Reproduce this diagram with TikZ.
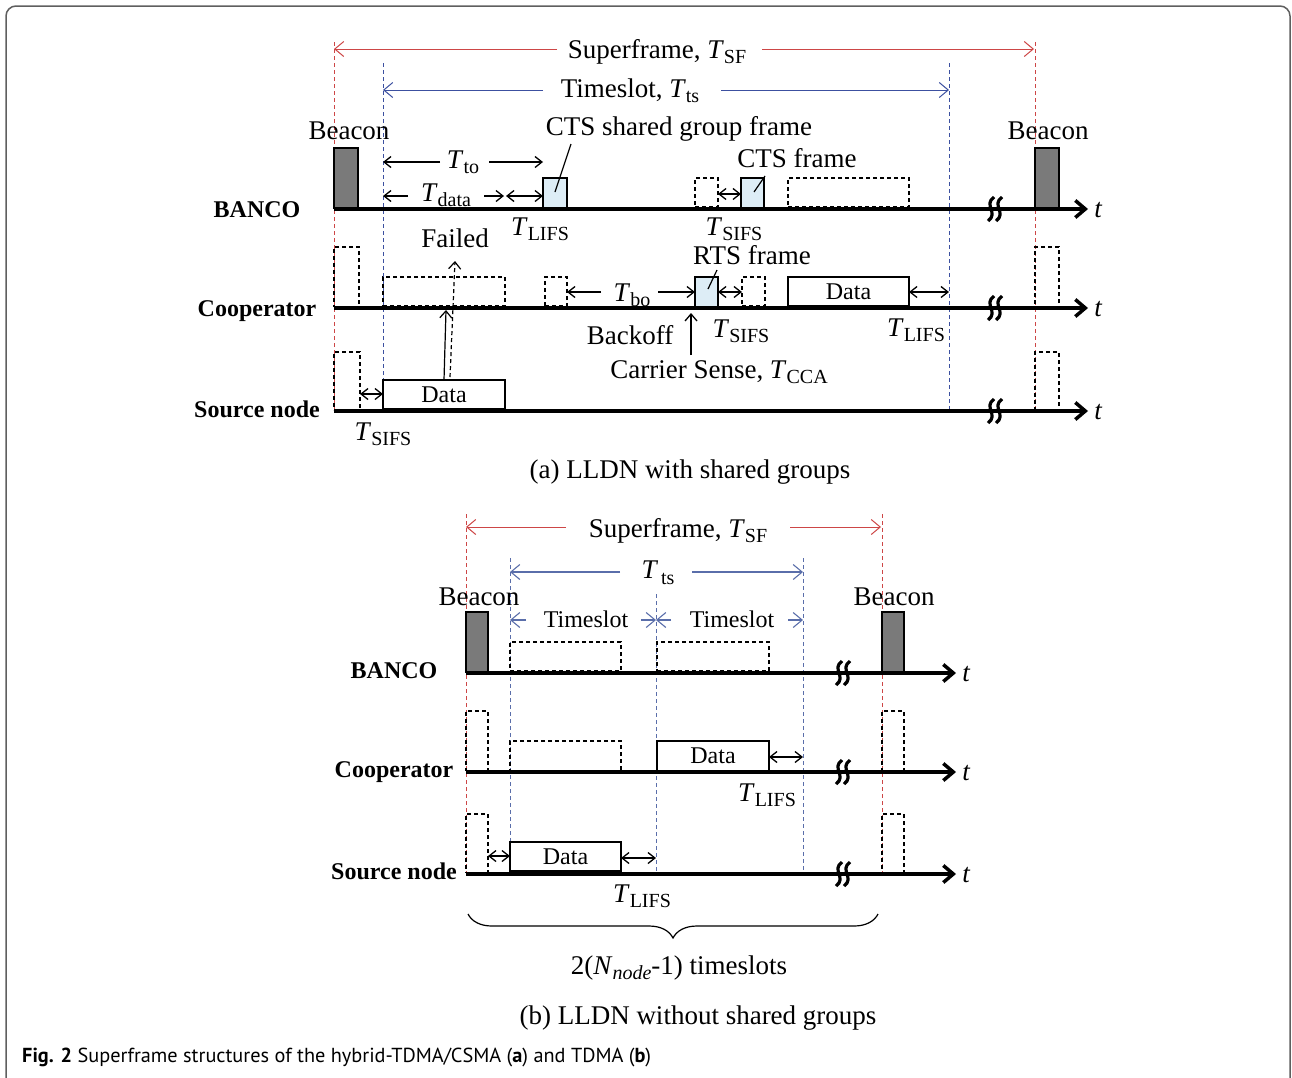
\documentclass[tikz,border=0pt]{standalone}
\usepackage{fontspec}
\setmainfont{Liberation Serif}
\newfontfamily\capfont{PT Sans}
\usetikzlibrary{arrows.meta,decorations.pathreplacing}
\definecolor{sfred}{RGB}{205,70,70}
\definecolor{tsblue}{RGB}{60,80,160}
\definecolor{tsblueb}{RGB}{90,110,170}
\definecolor{ctsfill}{RGB}{221,237,246}
\definecolor{beacongray}{RGB}{122,122,122}
\definecolor{framegray}{RGB}{95,95,95}
\newcommand{\Tsb}[1]{\textit{T}\raisebox{-5pt}{\fontsize{20}{20}\selectfont #1}}
\newcommand{\brkmark}[2]{%
  \foreach \dx in {-4,4}{%
    \draw[line width=3.2pt] ({#1+\dx+3},{#2-12}) .. controls ({#1+\dx-8},{#2-4}) and ({#1+\dx+8},{#2+4}) .. ({#1+\dx-3},{#2+12});}}
\begin{document}
\begin{tikzpicture}[x=1pt,y=-1pt,
  lbl/.style={font=\fontsize{27}{27}\selectfont, inner sep=0pt, anchor=base},
  sml/.style={font=\fontsize{24}{24}\selectfont, inner sep=0pt, anchor=base},
  rowlbl/.style={font=\fontsize{24}{24}\selectfont\bfseries, inner sep=0pt, anchor=base},
  tlbl/.style={font=\fontsize{27}{27}\selectfont\itshape, inner sep=0pt, anchor=base},
  axis/.style={line width=3.5pt, -{Straight Barb[length=10pt,width=17pt]}},
  reddash/.style={sfred, line width=1pt, dash pattern=on 3.5pt off 3.5pt},
  bluedash/.style={tsblue, line width=1pt, dash pattern=on 3.5pt off 3.5pt},
  bluedashb/.style={tsblueb, line width=1pt, dash pattern=on 3.5pt off 3.5pt},
  sfarr/.style={sfred, line width=1pt, -{Straight Barb[length=9pt,width=15pt]}},
  tsarr/.style={tsblue, line width=1pt, -{Straight Barb[length=9pt,width=15pt]}},
  tsarrb/.style={tsblueb, line width=1.1pt, -{Straight Barb[length=9pt,width=15pt]}},
  dimarr/.style={line width=1.3pt, -{Straight Barb[length=7pt,width=11pt]}},
  dimdbl/.style={line width=1.3pt, {Straight Barb[length=7pt,width=11pt]}-{Straight Barb[length=7pt,width=11pt]}},
  box/.style={inner sep=0pt, outer sep=0pt, anchor=south west, line width=1.3pt},
  beaconbox/.style={box, draw, fill=beacongray},
  ctsbox/.style={box, draw, fill=ctsfill},
  databox/.style={box, draw, fill=white, font=\fontsize{24}{24}\selectfont},
  dshbox/.style={box, draw, dash pattern=on 4pt off 3pt, line width=1.2pt},
]
\useasboundingbox (0,0) rectangle (1292,1077);
\draw[framegray, line width=1.5pt, rounded corners=10pt] (6,1090) -- (6,6) -- (1290,6) -- (1290,1090);

%% ================= (a) =================
\draw[reddash] (334,42) -- (334,412);
\draw[reddash] (1035,42) -- (1035,412);
\draw[bluedash] (383,63) -- (383,412);
\draw[bluedash] (949,63) -- (949,412);

\node[lbl] (sfA) at (657,58) {Superframe, \Tsb{SF}};
\draw[sfarr] (557,49) -- (334,49);
\draw[sfarr] (762,49) -- (1034,49);
\node[lbl] (tsA) at (630,97) {Timeslot, \Tsb{ts}};
\draw[tsarr] (543,90) -- (383,90);
\draw[tsarr] (721,90) -- (949,90);

\coordinate (axA1s) at (334,209); \coordinate (axA1e) at (1088,209);
\coordinate (axA2s) at (334,308); \coordinate (axA2e) at (1088,308);
\coordinate (axA3s) at (334,411); \coordinate (axA3e) at (1088,411);

% BANCO row boxes
\node[beaconbox, minimum width=24pt, minimum height=60pt] (bcnA1) at (334,208) {};
\node[beaconbox, minimum width=24pt, minimum height=60pt] (bcnA2) at (1035,208) {};
\node[ctsbox, minimum width=24pt, minimum height=30pt] (cts1) at (543,208) {};
\node[dshbox, minimum width=23pt, minimum height=29pt] (dsh1) at (695,207) {};
\node[ctsbox, minimum width=23pt, minimum height=30pt] (cts2) at (741,208) {};
\node[dshbox, minimum width=121pt, minimum height=29pt] (dsh2) at (788,207) {};

% Coop row boxes
\node[dshbox, minimum width=25pt, minimum height=60pt] (dbA1) at (334,307) {};
\node[dshbox, minimum width=24pt, minimum height=60pt] (dbA2) at (1035,307) {};
\node[dshbox, minimum width=122pt, minimum height=29pt] (dsh3) at (383,306) {};
\node[dshbox, minimum width=22pt, minimum height=29pt] (dsh4) at (545,306) {};
\node[ctsbox, minimum width=23pt, minimum height=30pt] (rts) at (695,307) {};
\node[dshbox, minimum width=23pt, minimum height=29pt] (dsh5) at (742,306) {};
\node[databox, minimum width=121pt, minimum height=29pt] (coopData) at (788,306) {Data};

% Source row boxes
\node[dshbox, minimum width=26pt, minimum height=58pt] (dbA3) at (334,410) {};
\node[dshbox, minimum width=24pt, minimum height=58pt] (dbA4) at (1035,410) {};
\node[databox, minimum width=122pt, minimum height=29pt] (srcData) at (383,409) {Data};

\draw[axis] (axA1s) -- (axA1e);
\draw[axis] (axA2s) -- (axA2e);
\draw[axis] (axA3s) -- (axA3e);
\brkmark{995}{209}
\brkmark{995}{308}
\brkmark{995}{411}
\node[tlbl] at (1098,217) {t};
\node[tlbl] at (1098,316) {t};
\node[tlbl] at (1098,419) {t};

\node[rowlbl] at (257,217) {BANCO};
\node[rowlbl] at (257,316) {Cooperator};
\node[rowlbl] at (257,417) {Source node};

% BANCO annotations
\node[lbl] at (349,139) {Beacon};
\node[lbl] at (1048,139) {Beacon};
\node[lbl] (ctsg) at (679,135) {CTS shared group frame};
\draw[line width=1.2pt] (571,144) -- (555,192);
\node[lbl] (ctsf) at (797,167) {CTS frame};
\draw[line width=1.2pt] (765,176) -- (754,192);
\node[lbl] (tto) at (463,168) {\Tsb{to}};
\draw[dimarr] (440,162) -- (383,162);
\draw[dimarr] (489,162) -- (543,162);
\node[lbl] (tdata) at (446,201) {\Tsb{data}};
\draw[dimarr] (408,196) -- (383,196);
\draw[dimarr] (484,196) -- (504,196);
\draw[dimdbl] (506,196) -- (cts1.west |- 0,196);
\node[lbl] at (540,235) {\Tsb{LIFS}};
\draw[dimdbl] (dsh1.east |- 0,194) -- (cts2.west |- 0,194);
\node[lbl] at (734,235) {\Tsb{SIFS}};

% Cooperator annotations
\node[lbl] (failed) at (455,247) {Failed};
\draw[line width=1.2pt, dash pattern=on 4pt off 3pt, -{Straight Barb[length=7pt,width=12pt]}] (450,377) -- (455,261);
\draw[line width=1.2pt, -{Straight Barb[length=7pt,width=12pt]}] (srcData.north -| 444,0) -- (446,310);
\node[lbl] (tbo) at (632,301) {\Tsb{bo}};
\draw[dimarr] (601,292) -- (dsh4.east |- 0,292);
\draw[dimarr] (658,292) -- (rts.west |- 0,292);
\node[lbl] (rtsl) at (752,264) {RTS frame};
\draw[line width=1.2pt] (717,270) -- (708,289);
\draw[dimdbl] (rts.east |- 0,292) -- (dsh5.west |- 0,292);
\node[lbl] at (741,337) {\Tsb{SIFS}};
\draw[dimdbl] (coopData.east |- 0,292) -- (949,292);
\node[lbl] at (916,336) {\Tsb{LIFS}};
\node[lbl] at (630,344) {Backoff};
\draw[line width=1.3pt, -{Straight Barb[length=7pt,width=12pt]}] (691,355) -- (691,313);
\node[lbl] at (719,378) {Carrier Sense, \Tsb{CCA}};

% Source annotations
\draw[dimdbl] (dbA3.east |- 0,394) -- (srcData.west |- 0,394);
\node[lbl] at (383,440) {\Tsb{SIFS}};

\node[lbl] at (690,478) {(a) LLDN with shared groups};

%% ================= (b) =================
\draw[reddash] (466,514) -- (466,874);
\draw[reddash] (882,514) -- (882,874);
\draw[bluedashb] (510,558) -- (510,874);
\draw[bluedashb] (656,594) -- (656,874);
\draw[bluedashb] (803,558) -- (803,874);

\node[lbl] (sfB) at (678,537) {Superframe, \Tsb{SF}};
\draw[sfarr] (566,527) -- (466,527);
\draw[sfarr] (790,527) -- (881,527);
\node[lbl] (tsB) at (658,578) {\textit{T}\hspace{3pt}\raisebox{-6pt}{\fontsize{20}{20}\selectfont ts}};
\draw[tsarrb] (620,572) -- (510,572);
\draw[tsarrb] (692,572) -- (803,572);
\node[sml] at (586,627) {Timeslot};
\node[sml] at (732,627) {Timeslot};
\draw[tsarrb] (526,620) -- (510,620);
\draw[tsarrb] (641,620) -- (656,620);
\draw[tsarrb] (671,620) -- (656,620);
\draw[tsarrb] (788,620) -- (803,620);

\coordinate (axB1s) at (466,673); \coordinate (axB1e) at (956,673);
\coordinate (axB2s) at (466,772); \coordinate (axB2e) at (956,772);
\coordinate (axB3s) at (466,874); \coordinate (axB3e) at (956,874);

\node[beaconbox, minimum width=22pt, minimum height=60pt] (bcnB1) at (466,672) {};
\node[beaconbox, minimum width=22pt, minimum height=60pt] (bcnB2) at (882,672) {};
\node[dshbox, minimum width=111pt, minimum height=29pt] (dshB1) at (510,671) {};
\node[dshbox, minimum width=112pt, minimum height=29pt] (dshB2) at (657,671) {};

\node[dshbox, minimum width=22pt, minimum height=60pt] (dbB1) at (466,771) {};
\node[dshbox, minimum width=22pt, minimum height=60pt] (dbB2) at (882,771) {};
\node[dshbox, minimum width=111pt, minimum height=30pt] (dshB3) at (510,771) {};
\node[databox, minimum width=112pt, minimum height=30pt] (coopDataB) at (657,771) {Data};

\node[dshbox, minimum width=22pt, minimum height=59pt] (dbB3) at (466,873) {};
\node[dshbox, minimum width=22pt, minimum height=59pt] (dbB4) at (882,873) {};
\node[databox, minimum width=111pt, minimum height=29pt] (srcDataB) at (510,871) {Data};

\draw[axis] (axB1s) -- (axB1e);
\draw[axis] (axB2s) -- (axB2e);
\draw[axis] (axB3s) -- (axB3e);
\brkmark{843}{673}
\brkmark{843}{772}
\brkmark{843}{874}
\node[tlbl] at (966,681) {t};
\node[tlbl] at (966,780) {t};
\node[tlbl] at (966,882) {t};

\node[rowlbl] at (394,678) {BANCO};
\node[rowlbl] at (394,777) {Cooperator};
\node[rowlbl] at (394,879) {Source node};

\node[lbl] at (479,605) {Beacon};
\node[lbl] at (894,605) {Beacon};

\draw[dimdbl] (coopDataB.east |- 0,757) -- (803,757);
\node[lbl] at (767,801) {\Tsb{LIFS}};
\draw[dimdbl] (dbB3.east |- 0,856) -- (srcDataB.west |- 0,856);
\draw[dimdbl] (srcDataB.east |- 0,858) -- (656,858);
\node[lbl] at (642,902) {\Tsb{LIFS}};

\draw[line width=1.2pt, decorate, decoration={brace, amplitude=24pt, mirror}] (468,914) -- (878,914);
\node[lbl] at (679,974) {2(\textit{N}\raisebox{-5pt}{\fontsize{20}{20}\selectfont\itshape node}-1) timeslots};
\node[lbl] at (698,1024) {(b) LLDN without shared groups};

\node[anchor=base west, inner sep=0pt, font=\capfont\fontsize{20.3}{20.3}\selectfont] at (22,1062) {\textbf{Fig. 2} Superframe structures of the hybrid-TDMA/CSMA (\textbf{a}) and TDMA (\textbf{b})};
\end{tikzpicture}
\end{document}
